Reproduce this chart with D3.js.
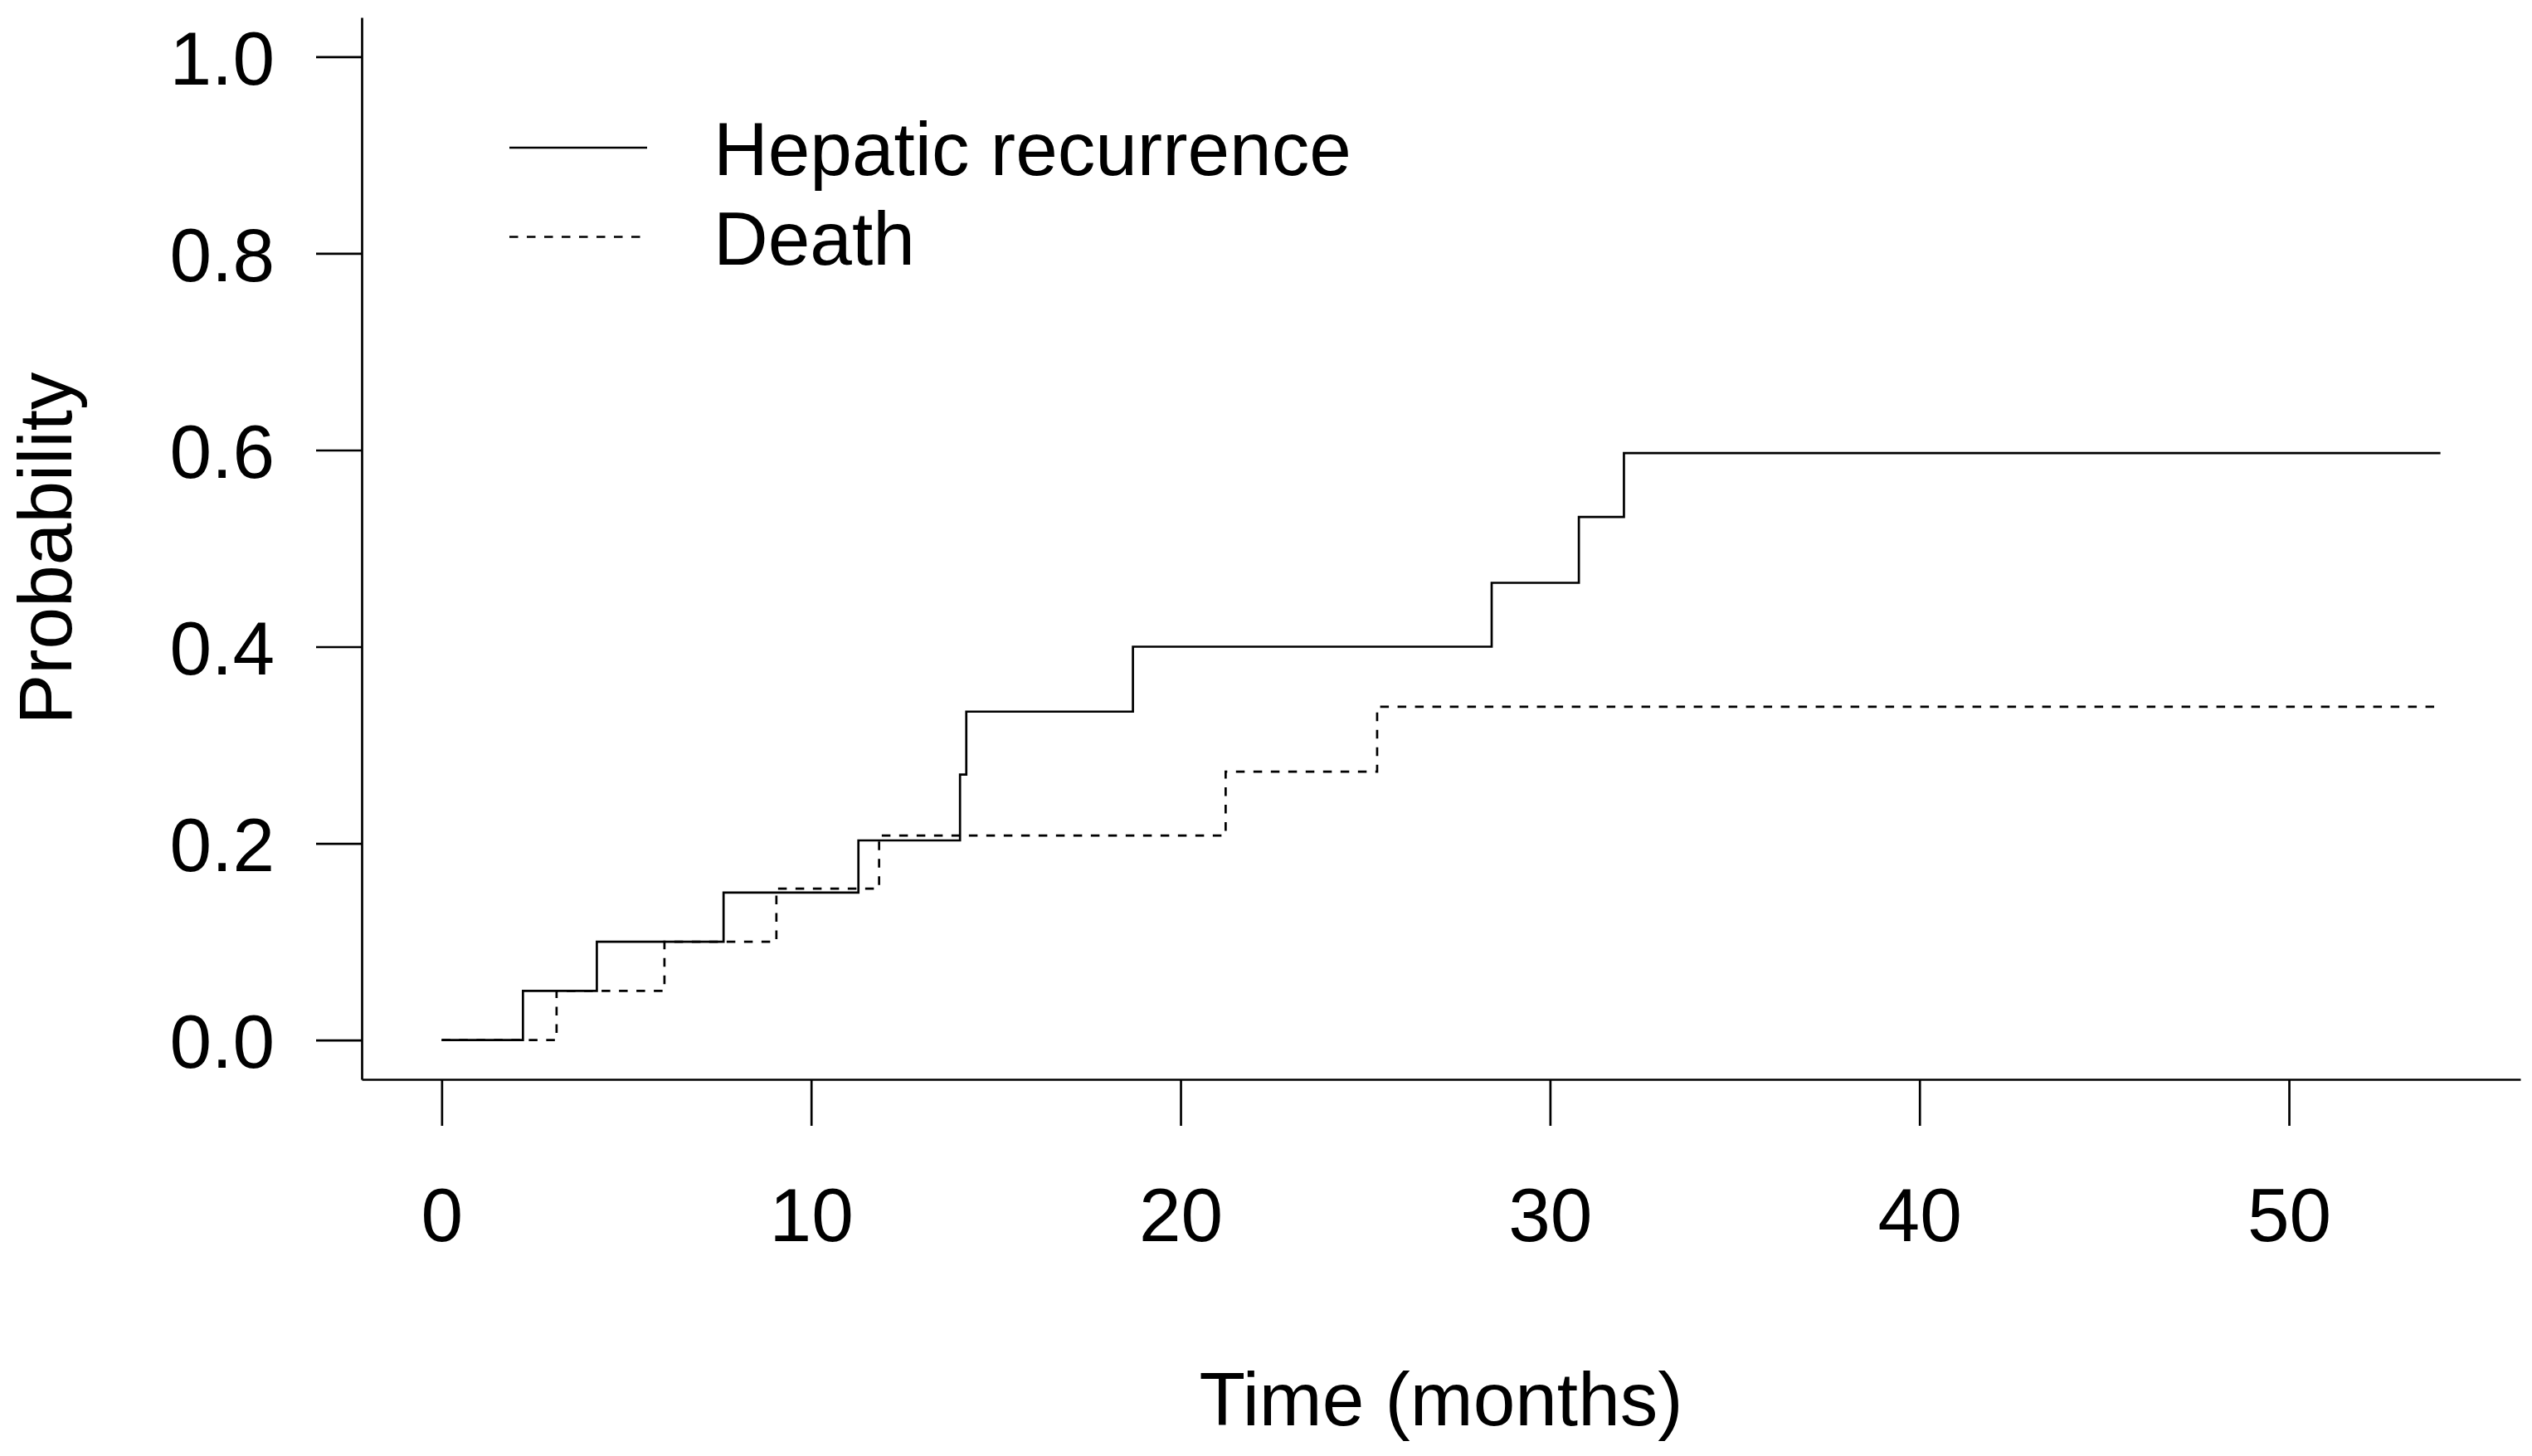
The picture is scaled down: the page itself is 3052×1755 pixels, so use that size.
<!DOCTYPE html>
<html>
<head>
<meta charset="utf-8">
<script src="https://cdn.jsdelivr.net/npm/d3@7"></script>
<style>
  body { margin: 0; background: #ffffff; }
  #chart { width: 3052px; height: 1755px; }
</style>
</head>
<body>
<div id="chart"></div>
<script>
// cumulative incidence steps (months, probability)
const hepaticTimes = [0, 2.2, 4.2, 7.63, 11.28, 14.03, 14.2, 18.71, 28.42, 30.78, 32.0];
const hepaticProbs = [0, 0.05, 0.10, 0.15, 0.203, 0.27, 0.334, 0.40, 0.465, 0.532, 0.597];
const deathTimes = [0, 3.11, 6.03, 9.06, 11.84, 21.22, 25.32];
const deathProbs = [0, 0.05, 0.10, 0.154, 0.208, 0.273, 0.339];
const followUpEnd = 54.1;

const xTicks = [0, 10, 20, 30, 40, 50];
const yTicks = [0, 0.2, 0.4, 0.6, 0.8, 1.0];
const legendLabels = ["Hepatic recurrence", "Death"];
const legendDashes = [null, "10.5,10.5"];

const width = 3052;
const height = 1755;
const fontFamily = "'Liberation Sans', Arial, Helvetica, sans-serif";
const fontSize = 91;
const lineWidth = 2.7;

function toSteps(times, probs) {
  const pts = times.map((t, i) => ({ t, p: probs[i] }));
  pts.push({ t: followUpEnd, p: probs[probs.length - 1] });
  return pts;
}

const svg = d3.select("#chart")
  .append("svg")
  .attr("width", width)
  .attr("height", height)
  .attr("viewBox", `0 0 ${width} ${height}`);

svg.append("rect")
  .attr("width", width)
  .attr("height", height)
  .attr("fill", "#ffffff");

// R style 4% padding around the data range
const xMin = 0, xMax = followUpEnd;
const xPad = (xMax - xMin) * 0.04;
const x = d3.scaleLinear()
  .domain([xMin - xPad, xMax + xPad])
  .range([436, 3038]);

const y = d3.scaleLinear()
  .domain([-0.04, 1.04])
  .range([1301, 21]);

const xAxis = svg.append("g")
  .attr("transform", `translate(0,${y.range()[0]})`)
  .call(d3.axisBottom(x)
    .tickValues(xTicks)
    .tickSize(56)
    .tickSizeOuter(0)
    .tickPadding(74)
    .tickFormat(d3.format("d")));

const yAxis = svg.append("g")
  .attr("transform", `translate(${x.range()[0]},0)`)
  .call(d3.axisLeft(y)
    .tickValues(yTicks)
    .tickSize(55)
    .tickSizeOuter(0)
    .tickPadding(50)
    .tickFormat(d3.format(".1f")));

[xAxis, yAxis].forEach((g) => {
  g.selectAll("path.domain, line")
    .attr("stroke", "#000")
    .attr("stroke-width", lineWidth);
  g.selectAll("text")
    .attr("fill", "#000")
    .style("font-family", fontFamily)
    .style("font-size", `${fontSize}px`);
});
yAxis.selectAll("text").attr("dy", "0.36em");

// axis titles
svg.append("text")
  .attr("x", (x.range()[0] + x.range()[1]) / 2)
  .attr("y", 1718)
  .attr("text-anchor", "middle")
  .style("font-family", fontFamily)
  .style("font-size", `${fontSize}px`)
  .text("Time (months)");

svg.append("text")
  .attr("transform", `translate(86,${(y.range()[0] + y.range()[1]) / 2}) rotate(-90)`)
  .attr("text-anchor", "middle")
  .style("font-family", fontFamily)
  .style("font-size", `${fontSize}px`)
  .text("Probability");

// step curves
const stepLine = d3.line()
  .x((d) => x(d.t))
  .y((d) => y(d.p))
  .curve(d3.curveStepAfter);

const series = [toSteps(hepaticTimes, hepaticProbs), toSteps(deathTimes, deathProbs)];

series.forEach((pts, i) => {
  svg.append("path")
    .datum(pts)
    .attr("d", stepLine)
    .attr("fill", "none")
    .attr("stroke", "#000")
    .attr("stroke-width", lineWidth)
    .attr("stroke-dasharray", legendDashes[i]);
});

// legend
const legend = svg.append("g");
legendLabels.forEach((label, i) => {
  const ly = 178 + i * 107.5;
  legend.append("line")
    .attr("x1", 614)
    .attr("x2", 780)
    .attr("y1", ly)
    .attr("y2", ly)
    .attr("stroke", "#000")
    .attr("stroke-width", lineWidth)
    .attr("stroke-dasharray", legendDashes[i]);
  legend.append("text")
    .attr("x", 860)
    .attr("y", ly + 33)
    .style("font-family", fontFamily)
    .style("font-size", `${fontSize}px`)
    .text(label);
});
</script>
</body>
</html>
